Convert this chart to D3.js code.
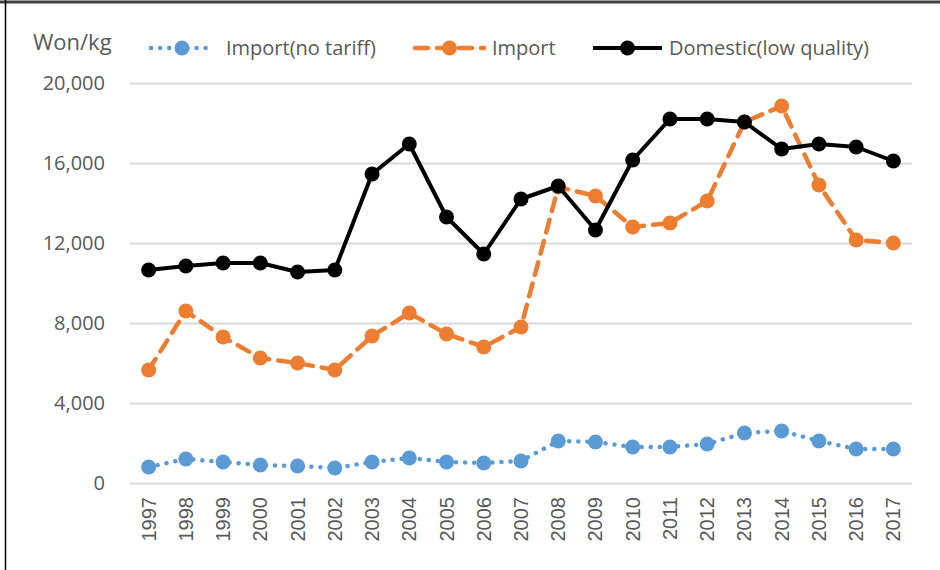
<!DOCTYPE html>
<html><head><meta charset="utf-8">
<script src="https://cdn.jsdelivr.net/npm/d3@7"></script>
<style>html,body{margin:0;padding:0;background:#fff;}svg{display:block;}</style>
</head><body>
<svg id="chart" width="940" height="570"></svg>
<script>
const years = ["1997","1998","1999","2000","2001","2002","2003","2004","2005","2006","2007","2008","2009","2010","2011","2012","2013","2014","2015","2016","2017"];
const noTariff = [800,1200,1050,900,850,750,1050,1250,1050,1000,1100,2100,2050,1800,1800,1950,2500,2600,2100,1700,1700];
const importVals = [5650,8600,7300,6250,6000,5650,7350,8500,7450,6800,7800,14800,14350,12800,13000,14100,18050,18850,14900,12150,12000];
const domestic = [10650,10850,11000,11000,10550,10650,15450,16950,13300,11450,14200,14850,12650,16150,18200,18200,18050,16700,16950,16800,16100];
const yTicks = [0,4000,8000,12000,16000,20000];
const seriesNames = ["Import(no tariff)","Import","Domestic(low quality)"];

(function(){
const svg = d3.select("#chart");
const W = 940, H = 570;
const pL = 130, pR = 912, pT = 83, pB = 483;
const font = "'Open Sans', 'Segoe UI', sans-serif";

// frame
svg.append("line").attr("x1",0).attr("x2",W).attr("y1",2).attr("y2",2).attr("stroke","#404040").attr("stroke-width",3);
svg.append("line").attr("x1",5.5).attr("x2",5.5).attr("y1",0).attr("y2",H).attr("stroke","#000").attr("stroke-width",1.5);

const x = d3.scaleBand().domain(years).range([pL,pR]);
const y = d3.scaleLinear().domain([0,20000]).range([pB,pT]);
const cx = d => x(d) + x.bandwidth()/2;

// grid
const yAxis = d3.axisLeft(y).tickValues(yTicks).tickSize(-(pR-pL)).tickFormat(d3.format(","));
const gy = svg.append("g").attr("transform",`translate(${pL},0)`).call(yAxis);
gy.select(".domain").remove();
gy.selectAll(".tick line").attr("stroke","#d9d9d9").attr("stroke-width",2);
gy.selectAll(".tick text").attr("x",-25).attr("fill","#595959").style("font-family",font).style("font-size","20px");

const xAxis = d3.axisBottom(x).tickSize(0);
const gx = svg.append("g").attr("transform",`translate(0,${pB})`).call(xAxis);
gx.select(".domain").remove();
gx.selectAll(".tick text").attr("transform","rotate(-90)").attr("text-anchor","end").attr("x",-14).attr("y",0).attr("dy","0.35em")
  .attr("fill","#595959").style("font-family","'Liberation Sans', Arial, sans-serif").style("font-size","20px");

svg.append("text").attr("x",33).attr("y",50).text("Won/kg").attr("fill","#595959").style("font-family",font).style("font-size","22px");

const line = d3.line().x((d,i)=>cx(years[i])).y(d=>y(d));
const specs = [
  {data:noTariff, color:"#5B9BD5", dash:"0.1,9", cap:"round", w:4.5},
  {data:importVals, color:"#ED7D31", dash:"13,9", cap:"round", w:4.5},
  {data:domestic, color:"#000000", dash:null, cap:"butt", w:4}
];
specs.forEach(s=>{
  const p = svg.append("path").datum(s.data).attr("d",line).attr("fill","none").attr("stroke",s.color)
    .attr("stroke-width",s.w).attr("stroke-linecap",s.cap).attr("stroke-linejoin","round");
  if(s.dash) p.attr("stroke-dasharray",s.dash);
  svg.append("g").selectAll("circle").data(s.data).join("circle")
    .attr("cx",(d,i)=>cx(years[i])).attr("cy",d=>y(d)).attr("r",7.5).attr("fill",s.color);
});

// legend
const legendPos = [{x1:151,x2:213,tx:226},{x1:415,x2:484,tx:492},{x1:593,x2:662,tx:669}];
const ly = 48;
specs.forEach((s,i)=>{
  const L = legendPos[i];
  const l = svg.append("line").attr("x1",L.x1).attr("x2",L.x2).attr("y1",ly).attr("y2",ly).attr("stroke",s.color)
    .attr("stroke-width",s.w).attr("stroke-linecap",s.cap);
  if(s.dash) l.attr("stroke-dasharray",s.dash);
  svg.append("circle").attr("cx",(L.x1+L.x2)/2).attr("cy",ly).attr("r",7.5).attr("fill",s.color);
  svg.append("text").attr("x",L.tx).attr("y",ly).attr("dy","0.35em").text(seriesNames[i]).attr("fill","#595959")
    .style("font-family",font).style("font-size","20px");
});
})();
</script>
</body></html>
